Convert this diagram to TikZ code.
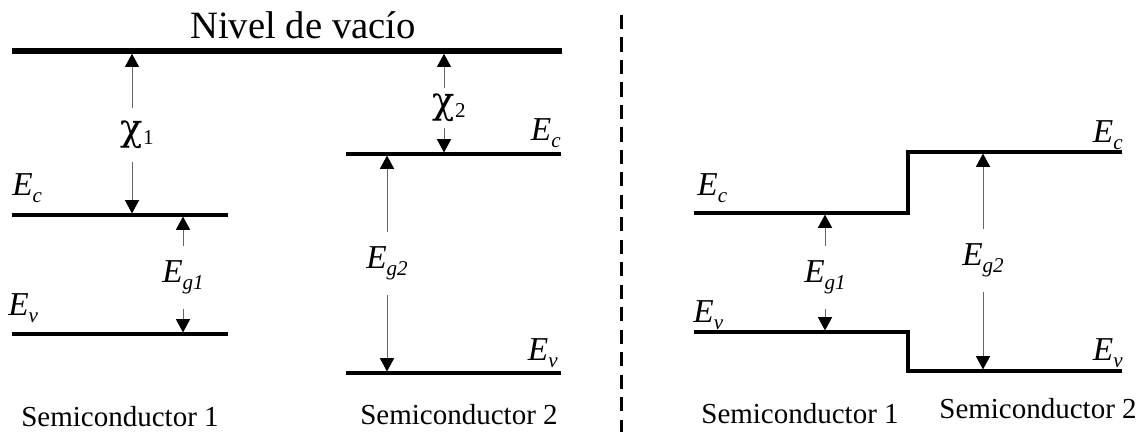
\documentclass[tikz,border=0pt]{standalone}
\usepackage{fontspec}
\setmainfont{Liberation Serif}
\newfontfamily\chifont{DejaVu Serif}
\usetikzlibrary{arrows.meta,positioning}

\newcommand{\Elbl}[1]{\textit{E}\raisebox{-4.5pt}{\fontsize{12}{12}\selectfont\textit{#1}}}
\newcommand{\chilbl}[1]{{\chifont χ}\rlap{\raisebox{-0.25ex}{\fontsize{12}{12}\selectfont #1}}}

\begin{document}
\begin{tikzpicture}[x=0.02cm, y=-0.02cm,
    nivel/.style={line width=1.8pt},
    vacio/.style={line width=3.2pt},
    flecha/.style={draw=black!60, line width=0.5pt, shorten >=0.9pt,
      -{Triangle[width=8pt,length=7.5pt,color=black]}},
    elbl/.style={font=\fontsize{19}{22}\selectfont, inner sep=0pt},
    glbl/.style={font=\fontsize{19}{22}\selectfont, inner xsep=0pt, inner ysep=8pt, anchor=base},
    xlbl/.style={font=\fontsize{21}{24}\selectfont, inner xsep=0pt},
    slbl/.style={font=\fontsize{16.5}{19}\selectfont, inner sep=0pt, anchor=base}]

  \useasboundingbox (0,0) rectangle (1148,439);

  % antes del contacto
  \node[font=\fontsize{22}{26}\selectfont, inner sep=0pt, anchor=base] (titulo) at (303,39) {Nivel de vacío};
  \draw[vacio] (12,51) coordinate (vac) -- (562,51);
  \draw[nivel] (12,215) coordinate (ecA) -- (228,215);
  \draw[nivel] (12,334) coordinate (evA) -- (228,334);
  \draw[nivel] (346,154) coordinate (ecB) -- (561,154);
  \draw[nivel] (346,373) coordinate (evB) -- (561,373);

  \node[elbl, anchor=base west] (ecAl) at (12,195) {\Elbl{c}};
  \node[elbl, anchor=base west] (evAl) at (8,315) {\Elbl{v}};
  \node[elbl, anchor=base east] (ecBl) at (561,140) {\Elbl{c}};
  \node[elbl, anchor=base east] (evBl) at (558,360) {\Elbl{v}};

  \node[xlbl, inner ysep=7pt] (chiA) at (132,135) {\chilbl{1}};
  \draw[flecha, shorten >=1.6pt] (chiA.north) -- (chiA.north |- vac);
  \draw[flecha] (chiA.south) -- (chiA.south |- ecA);

  \node[xlbl, inner ysep=3pt] (chiB) at (444,108) {\chilbl{2}};
  \draw[flecha, shorten >=1.6pt] (chiB.north) -- (chiB.north |- vac);
  \draw[flecha] (chiB.south) -- (chiB.south |- ecB);

  \node[glbl] (egA) at (183,282) {\Elbl{g1}};
  \draw[flecha] (egA.north) -- (egA.north |- ecA);
  \draw[flecha] (egA.south) -- (egA.south |- evA);

  \node[glbl] (egB) at (387,268) {\Elbl{g2}};
  \draw[flecha] (egB.north) -- (egB.north |- ecB);
  \draw[flecha] (egB.south) -- (egB.south |- evB);

  % separador
  \draw[line width=1.7pt, dash pattern=on 8pt off 4.8pt] (621,15) -- (621,432);

  % heterounion
  \draw[nivel] (694,213) coordinate (ecC) -- (908,213) -- (908,152) coordinate (ecD) -- (1122,152);
  \draw[nivel] (694,332) coordinate (evC) -- (908,332) -- (908,371) coordinate (evD) -- (1122,371);

  \node[elbl, anchor=base west] (ecCl) at (697,195) {\Elbl{c}};
  \node[elbl, anchor=base west] (evCl) at (693,322) {\Elbl{v}};
  \node[elbl, anchor=base east] (ecDl) at (1123,142) {\Elbl{c}};
  \node[elbl, anchor=base east] (evDl) at (1123,360) {\Elbl{v}};

  \node[glbl] (egC) at (825,282) {\Elbl{g1}};
  \draw[flecha] (egC.north) -- (egC.north |- ecC);
  \draw[flecha] (egC.south) -- (egC.south |- evC);

  \node[glbl] (egD) at (983,265) {\Elbl{g2}};
  \draw[flecha] (egD.north) -- (egD.north |- ecD);
  \draw[flecha] (egD.south) -- (egD.south |- evD);

  \foreach \x/\y/\n in {120/426/1, 459/424/2, 800/423/1, 1038/418/2}
    \node[slbl] (sc\x) at (\x,\y) {Semiconductor \n};
\end{tikzpicture}
\end{document}
